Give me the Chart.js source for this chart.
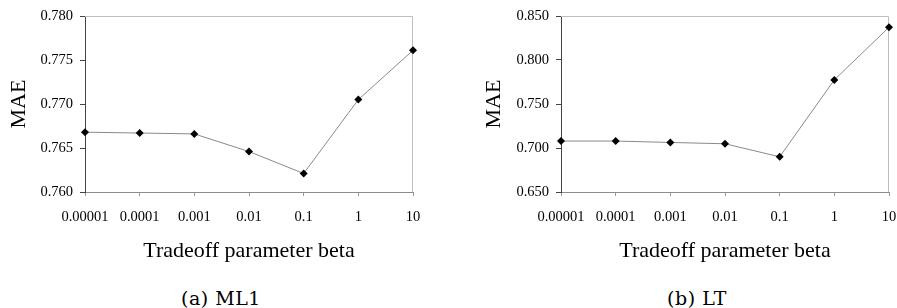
<!DOCTYPE html>
<html>
<head>
<meta charset="utf-8">
<script src="https://cdn.jsdelivr.net/npm/chart.js@4/dist/chart.umd.min.js"></script>
<style>
  body { margin: 0; background: #fff; }
  #wrap { position: relative; width: 897px; height: 308px; }
  .box { position: absolute; top: 0; }
  .caption { position: absolute; top: 287px; font-family: "DejaVu Serif", serif; font-size: 19px; letter-spacing: 0.5px; color: #000; white-space: pre; transform: translateX(-50%); }
</style>
</head>
<body>
<div id="wrap">
  <div class="box" style="left:0;width:450px;height:264px"><canvas id="chartA"></canvas></div>
  <div class="box" style="left:450px;width:447px;height:264px"><canvas id="chartB"></canvas></div>
  <div class="caption" style="left:221px">(a) ML1</div>
  <div class="caption" style="left:697px">(b) LT</div>
</div>
<script>
const betaLabels = ['0.00001', '0.0001', '0.001', '0.01', '0.1', '1', '10'];
const maeML1 = [0.7668, 0.7667, 0.7666, 0.7646, 0.7621, 0.7705, 0.7761];
const maeLT = [0.7079, 0.7079, 0.7063, 0.7048, 0.6900, 0.7774, 0.8372];
const ticksML1 = { min: 0.760, max: 0.780, step: 0.005 };
const ticksLT = { min: 0.650, max: 0.850, step: 0.050 };

const serif = '"Liberation Serif", "Times New Roman", serif';

// light frame on top and right of the plot area
const frame = {
    id: 'frame',
    beforeDatasetsDraw(chart) {
        const a = chart.chartArea, ctx = chart.ctx;
        ctx.save();
        ctx.strokeStyle = '#bdbdbd';
        ctx.lineWidth = 1;
        ctx.beginPath();
        ctx.moveTo(a.left, a.top + 0.5);
        ctx.lineTo(a.right - 0.5, a.top + 0.5);
        ctx.lineTo(a.right - 0.5, a.bottom);
        ctx.stroke();
        ctx.restore();
    }
};

function makeChart(id, values, yt, yWidth, yTitlePad, rightPad) {
    const ctx = document.getElementById(id).getContext('2d');
    return new Chart(ctx, {
        type: 'line',
        data: {
            labels: betaLabels,
            datasets: [{
                data: values,
                borderColor: '#8a8a8a',
                borderWidth: 1,
                pointStyle: 'rectRot',
                pointRadius: 4,
                pointBackgroundColor: '#000',
                pointBorderColor: '#000',
                pointBorderWidth: 0,
                tension: 0
            }]
        },
        plugins: [frame],
        options: {
            responsive: true,
            maintainAspectRatio: false,
            animation: false,
            layout: { padding: { top: 16, right: rightPad, left: 0, bottom: 0 } },
            plugins: { legend: { display: false }, tooltip: { enabled: false } },
            scales: {
                x: {
                    offset: false,
                    grid: { display: true, drawOnChartArea: false, drawTicks: true, tickLength: 4, color: '#999' },
                    border: { display: true, color: '#8c8c8c' },
                    ticks: { color: '#000', padding: 12, maxRotation: 0, autoSkip: false, font: { family: serif, size: 14.5 } },
                    title: { display: true, text: 'Tradeoff parameter beta', color: '#000', padding: { top: 4, bottom: 0 }, font: { family: serif, size: 22 } },
                    afterFit(scale) {
                        scale.height = 72;
                        scale.paddingRight = 0;
                    }
                },
                y: {
                    min: yt.min,
                    max: yt.max,
                    grid: { drawOnChartArea: false, tickLength: 5, color: '#444' },
                    border: { display: true, color: '#444' },
                    ticks: {
                        stepSize: yt.step,
                        color: '#000',
                        padding: 7,
                        font: { family: serif, size: 14.5 },
                        callback: v => v.toFixed(3)
                    },
                    title: { display: true, text: 'MAE', color: '#000', padding: { top: yTitlePad, bottom: 0 }, font: { family: serif, size: 22 } },
                    afterFit(scale) { scale.width = yWidth; }
                }
            }
        }
    });
}

makeChart('chartA', maeML1, ticksML1, 85, 6, 37);
makeChart('chartB', maeLT, ticksLT, 111, 31, 8);
</script>
</body>
</html>
